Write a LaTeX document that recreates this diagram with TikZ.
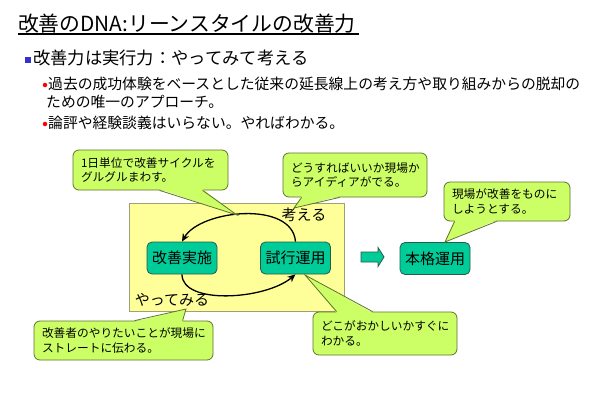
\documentclass[tikz,border=0pt]{standalone}
\usepackage{fontspec}
\setmainfont{Noto Sans CJK JP}
\usetikzlibrary{arrows.meta,calc}
\definecolor{tealfill}{RGB}{0,204,153}
\definecolor{tealline}{RGB}{40,90,70}
\definecolor{cfillc}{RGB}{204,255,102}
\definecolor{clinec}{RGB}{95,115,45}
\definecolor{yfillc}{RGB}{255,255,153}
\definecolor{ylinec}{RGB}{160,160,120}
\definecolor{bluesq}{RGB}{51,51,204}
\tikzset{
  procbox/.style={draw=tealline, fill=tealfill, rounded corners=5pt, line width=0.8pt,
    minimum width=70pt, minimum height=32pt, inner sep=0pt, font=\fontsize{15}{18}\selectfont},
  cbox/.style={draw=clinec, fill=cfillc, rounded corners=6pt, line width=0.8pt,
    inner xsep=8pt, inner ysep=0pt, align=left, font=\fontsize{11.7}{14.5}\selectfont},
  cline/.style={draw=clinec, line width=0.8pt, line join=miter},
  cfill/.style={fill=cfillc},
  cyc/.style={line width=1.3pt, -{Stealth[length=8pt,width=7pt]}},
  plain/.style={inner sep=0pt, anchor=west}
}
\begin{document}
\begin{tikzpicture}[x=1pt,y=-1pt]
\useasboundingbox (0,0) rectangle (600,415);
\fill[white] (0,0) rectangle (600,415);

% title
\node[plain, font=\fontsize{20.8}{24}\selectfont] (title) at (18,23.5) {改善のDNA:リーンスタイルの改善力};
\draw[line width=1.3pt] (18,34) -- (title.east |- 0,34) -- ++(3,0);

% bullets
\node[fill=bluesq, minimum size=6.5pt, inner sep=0pt] (sq) at (28,60) {};
\node[plain, font=\fontsize{17.3}{20}\selectfont] (b1) at (33,58) {改善力は実行力：やってみて考える};
\node[circle, fill=red, minimum size=4.5pt, inner sep=0pt] (d1) at (45,85) {};
\node[plain, font=\fontsize{14.8}{18}\selectfont] (s1) at (48,84) {過去の成功体験をベースとした従来の延長線上の考え方や取り組みからの脱却の};
\node[plain, font=\fontsize{14.8}{18}\selectfont] (s1b) at (46,102) {ための唯一のアプローチ。};
\node[circle, fill=red, minimum size=4.5pt, inner sep=0pt] (d2) at (45,124) {};
\node[plain, font=\fontsize{14.8}{18}\selectfont] (s2) at (48,123) {論評や経験談義はいらない。やればわかる。};

% yellow area
\node[draw=ylinec, fill=yfillc, line width=0.8pt, minimum width=215pt, minimum height=108pt, inner sep=0pt] (ybox) at (236.5,257) {};

% process nodes
\node[procbox] (k) at (182,258) {改善実施};
\node[procbox] (s) at (295.5,258) {試行運用};
\node[procbox] (h) at (435,258.5) {本格運用};

\node[inner sep=0pt, font=\fontsize{15}{18}\selectfont] (kang) at (304,215) {考える};
\node[inner sep=0pt, font=\fontsize{15}{18}\selectfont] (yatte) at (172,300) {やってみる};

% cycle arrows
\draw[cyc] (s.north) .. controls (292,200) and (200,210) .. (k.north);
\draw[cyc] (k.south) .. controls (182,305) and (265,300) .. (s.south);

% block arrow
\draw[draw=tealline, fill=tealfill, line width=0.8pt, line join=miter]
  (361,252) -- (378,252) -- (378,247.5) -- (384,257) -- (378,266.5) -- (378,262) -- (361,262) -- cycle;

% callouts
\node[cbox, minimum width=155pt, minimum height=40pt, text width=139pt] (c1) at (150.5,170) {1日単位で改善サイクルを\\グルグルまわす。};
\coordinate (t1) at (237,215);
\fill[cfill] ($(c1.south west)+(87,-1.2)$) -- (t1) -- ($(c1.south west)+(130,-1.2)$) -- cycle;
\draw[cline] ($(c1.south west)+(87,0)$) -- (t1) -- ($(c1.south west)+(130,0)$);

\node[cbox, minimum width=144pt, minimum height=44pt, text width=128pt] (c2) at (355,175) {どうすればいいか現場か\\らアイディアがでる。};
\coordinate (t2) at (294,208);
\fill[cfill] ($(c2.south west)+(19,-1.2)$) -- (t2) -- ($(c2.south west)+(57,-1.2)$) -- cycle;
\draw[cline] ($(c2.south west)+(19,0)$) -- (t2) -- ($(c2.south west)+(57,0)$);

\node[cbox, minimum width=126pt, minimum height=39pt, text width=110pt] (c3) at (507,201.5) {現場が改善をものに\\しようとする。};
\coordinate (t3) at (445,242);
\fill[cfill] ($(c3.south west)+(11,-1.2)$) -- (t3) -- ($(c3.south west)+(53,-1.2)$) -- cycle;
\draw[cline] ($(c3.south west)+(11,0)$) -- (t3) -- ($(c3.south west)+(53,0)$);

\node[cbox, minimum width=179pt, minimum height=39pt, text width=163pt] (c4) at (123.5,340.5) {改善者のやりたいことが現場に\\ストレートに伝わる。};
\coordinate (t4) at (186,309);
\fill[cfill] ($(c4.north west)+(101,1.2)$) -- (t4) -- ($(c4.north west)+(149,1.2)$) -- cycle;
\draw[cline] ($(c4.north west)+(101,0)$) -- (t4) -- ($(c4.north west)+(149,0)$);

\node[cbox, minimum width=144pt, minimum height=43pt, text width=128pt] (c5) at (385,333.5) {どこがおかしいかすぐに\\わかる。};
\coordinate (t5) at (305,275);
\fill[cfill] ($(c5.north west)+(24,1.2)$) -- (t5) -- ($(c5.north west)+(60,1.2)$) -- cycle;
\draw[cline] ($(c5.north west)+(24,0)$) -- (t5) -- ($(c5.north west)+(60,0)$);
\end{tikzpicture}
\end{document}
